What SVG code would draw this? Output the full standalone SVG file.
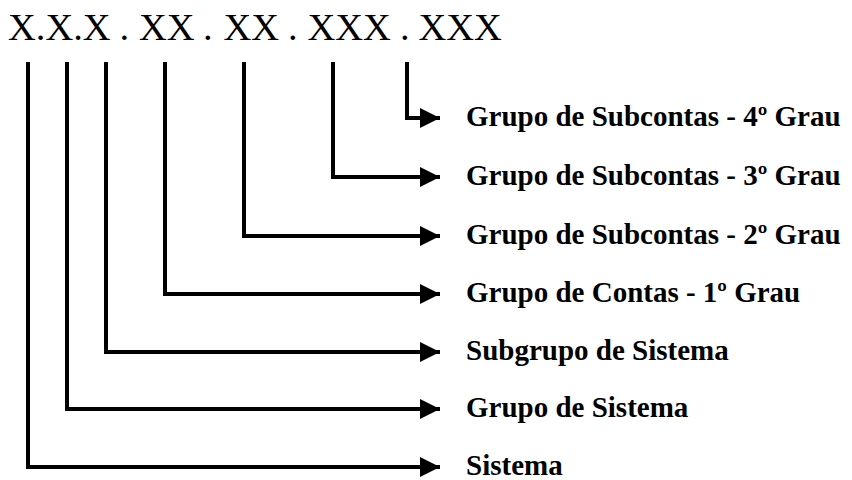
<svg xmlns="http://www.w3.org/2000/svg" width="852" height="480" viewBox="0 0 852 480">
<style>
.code{font-family:"Liberation Serif","Times New Roman",serif;font-size:38.5px;fill:#000}
.lbl{font-family:"Liberation Serif","Times New Roman",serif;font-size:29px;font-weight:bold;fill:#000}
.ln{fill:none;stroke:#000;stroke-width:4;stroke-linejoin:miter;stroke-linecap:butt}
</style>
<defs>
<marker id="ah" markerUnits="userSpaceOnUse" markerWidth="20" markerHeight="20" viewBox="0 0 18 18" refX="18" refY="9" orient="auto">
<path d="M0,0 L18,9 L0,18 Z" fill="#000"/>
</marker>
</defs>
<rect width="852" height="480" fill="#fff"/>
<g id="code">
<text class="code" x="8" y="40">X.X.X</text>
<text class="code" x="119.5" y="40">.</text>
<text class="code" x="139" y="40">XX</text>
<text class="code" x="203" y="40">.</text>
<text class="code" x="223.5" y="40">XX</text>
<text class="code" x="288" y="40">.</text>
<text class="code" x="307.5" y="40">XXX</text>
<text class="code" x="400" y="40">.</text>
<text class="code" x="418.5" y="40">XXX</text>
</g>
<g id="connectors">
<path class="ln" d="M407,62 V118 H440" marker-end="url(#ah)"/>
<path class="ln" d="M333,62 V177 H440" marker-end="url(#ah)"/>
<path class="ln" d="M244,62 V236 H440" marker-end="url(#ah)"/>
<path class="ln" d="M165,62 V294 H440" marker-end="url(#ah)"/>
<path class="ln" d="M106,62 V352 H440" marker-end="url(#ah)"/>
<path class="ln" d="M67,62 V409 H440" marker-end="url(#ah)"/>
<path class="ln" d="M28,62 V467 H440" marker-end="url(#ah)"/>
</g>
<g id="n4"><text class="lbl" x="466" y="126">Grupo de Subcontas - 4º Grau</text></g>
<g id="n3"><text class="lbl" x="466" y="185">Grupo de Subcontas - 3º Grau</text></g>
<g id="n2"><text class="lbl" x="466" y="244">Grupo de Subcontas - 2º Grau</text></g>
<g id="n1"><text class="lbl" x="466" y="302">Grupo de Contas - 1º Grau</text></g>
<g id="subgrupo"><text class="lbl" x="466" y="360">Subgrupo de Sistema</text></g>
<g id="grupo"><text class="lbl" x="466" y="417">Grupo de Sistema</text></g>
<g id="sistema"><text class="lbl" x="466" y="475">Sistema</text></g>
</svg>
